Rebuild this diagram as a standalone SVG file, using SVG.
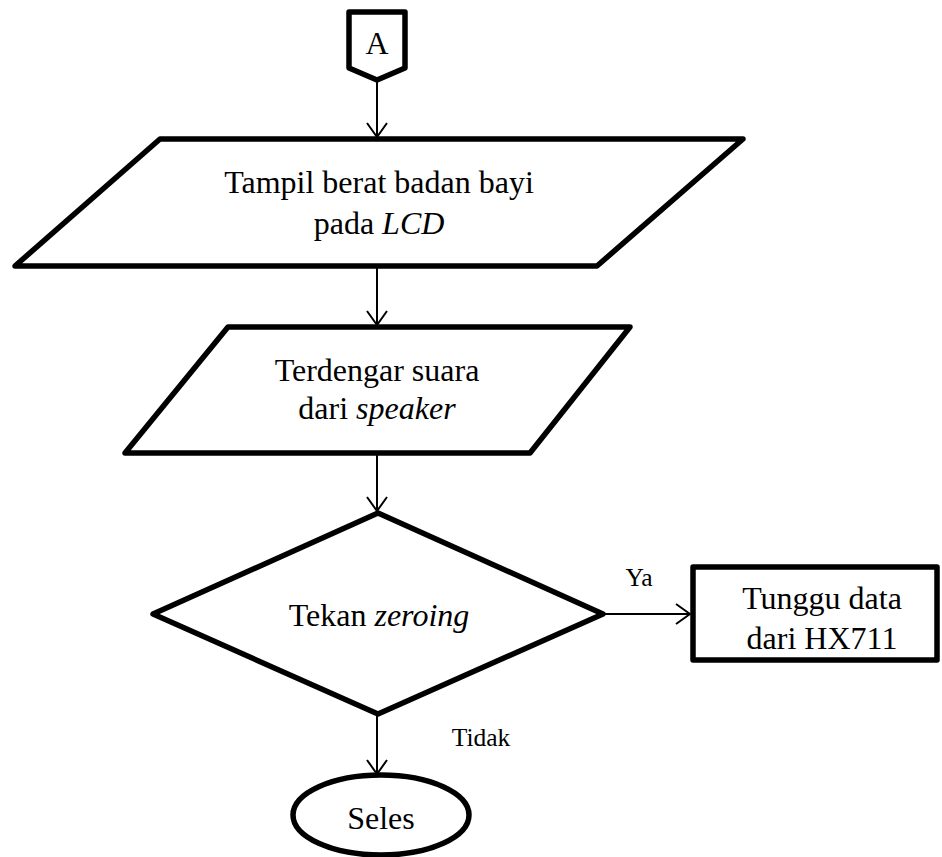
<svg xmlns="http://www.w3.org/2000/svg" width="942" height="857" viewBox="0 0 942 857">
<style>
.shape{fill:#fff;stroke:#000;stroke-width:5.5;stroke-linejoin:round}
.conn{fill:none;stroke:#000;stroke-width:2}
.t{font-family:"Liberation Serif","Times New Roman",serif;font-size:32px;fill:#000;text-anchor:middle}
.s{font-family:"Liberation Serif","Times New Roman",serif;font-size:25.5px;fill:#000;text-anchor:middle}
</style>
<defs>
<marker id="arr" markerUnits="userSpaceOnUse" markerWidth="30" markerHeight="30" refX="15" refY="15" orient="auto">
<path d="M1,5 L15,15 L1,25" fill="none" stroke="#000" stroke-width="2"/>
</marker>
</defs>
<g id="connectors">
<line class="conn" x1="377" y1="80" x2="377" y2="137" marker-end="url(#arr)"/>
<line class="conn" x1="377" y1="266" x2="377" y2="325" marker-end="url(#arr)"/>
<line class="conn" x1="377" y1="453" x2="377" y2="511" marker-end="url(#arr)"/>
<line class="conn" x1="603" y1="614" x2="690" y2="614" marker-end="url(#arr)"/>
<line class="conn" x1="377" y1="715" x2="377" y2="774" marker-end="url(#arr)"/>
<text class="s" x="639" y="586">Ya</text>
<text class="s" x="481" y="746">Tidak</text>
</g>
<g id="nodeA">
<polygon class="shape" points="349,12 405,12 405,68 377,80 349,68"/>
<text class="t" x="377" y="54">A</text>
</g>
<g id="tampil">
<polygon class="shape" points="160,139 743,139 597,266 15,266"/>
<text class="t" x="379" y="193">Tampil berat badan bayi</text>
<text class="t" x="379" y="234">pada <tspan font-style="italic">LCD</tspan></text>
</g>
<g id="suara">
<polygon class="shape" points="228,327 630,327 530,453 125,453"/>
<text class="t" x="377" y="381">Terdengar suara</text>
<text class="t" x="377" y="419">dari <tspan font-style="italic">speaker</tspan></text>
</g>
<g id="zeroing">
<polygon class="shape" points="378,513 603,614 378,714 153,614"/>
<text class="t" x="379" y="626">Tekan <tspan font-style="italic">zeroing</tspan></text>
</g>
<g id="tunggu">
<rect class="shape" x="693" y="567" width="244" height="93"/>
<text class="t" x="822" y="609">Tunggu data</text>
<text class="t" x="822" y="649">dari HX711</text>
</g>
<g id="seles">
<ellipse class="shape" cx="381" cy="815" rx="88" ry="40"/>
<text class="t" x="381" y="829">Seles</text>
</g>
</svg>
